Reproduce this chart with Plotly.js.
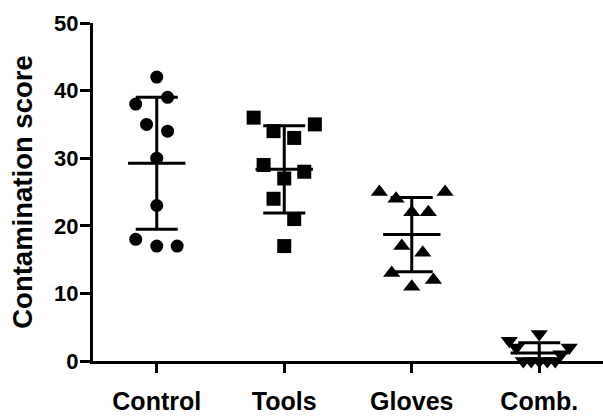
<!DOCTYPE html>
<html>
<head>
<meta charset="utf-8">
<script src="https://cdn.plot.ly/plotly-3.0.1.min.js"></script>
<style>html,body{margin:0;padding:0;background:#fff;}#chart{width:603px;height:418px;}</style>
</head>
<body>
<div id="chart"></div>
<script>
// ---- data ----
const categories = ["Control", "Tools", "Gloves", "Comb."];
const controlValues = [42, 38, 39, 35, 34, 30, 23, 18, 17, 17];
const toolsValues   = [36, 35, 34, 33, 29, 28, 27, 24, 21, 17];
const glovesValues  = [25, 25, 24, 22, 22, 17, 16, 13, 12, 11];
const combValues    = [4, 3, 2, 2, 1, 0, 0, 0, 0, 0];
// horizontal spread of points within each column (category units)
const controlSpread = [0, -0.165, 0.085, -0.08, 0.085, 0, 0, -0.165, 0, 0.16];
const toolsSpread   = [-0.24, 0.24, -0.084, 0.078, -0.162, 0.157, 0, -0.084, 0.078, 0];
const glovesSpread  = [-0.254, 0.261, -0.123, 0, 0.13, -0.078, 0.086, -0.157, 0.17, 0];
const combSpread    = [0, -0.235, -0.18, 0.235, 0.17, -0.125, -0.063, 0, 0.063, 0.125];
const groupMeans = [29.25, 28.35, 18.7, 1.2];
const groupSD    = [9.75, 6.45, 5.5, 1.5];
const yTicks = [0, 10, 20, 30, 40, 50];

const values = [controlValues, toolsValues, glovesValues, combValues];
const spreads = [controlSpread, toolsSpread, glovesSpread, combSpread];
const symbols = ["circle", "square", "triangle-up", "triangle-down"];
const sizes = [13, 14, 15, 15];

const FONT = "Liberation Sans, Arial, Helvetica, sans-serif";
const bold = s => "<b>" + s + "</b>";

const traces = [];
traces.push({
  type: "scatter", mode: "markers",
  x: categories.map((c, i) => i), y: groupMeans,
  marker: {symbol: "line-ew", size: 41, color: "#000", line: {width: 3, color: "#000"}},
  error_y: {type: "data", array: groupSD, visible: true, color: "#000", thickness: 3, width: 21},
  cliponaxis: false, hoverinfo: "skip", showlegend: false
});
values.forEach((vals, i) => {
  traces.push({
    type: "scatter", mode: "markers",
    x: vals.map((v, j) => i + spreads[i][j]), y: vals,
    marker: {symbol: symbols[i], size: sizes[i], color: "#000", line: {width: 0}},
    cliponaxis: false, showlegend: false
  });
});

const layout = {
  width: 603, height: 418,
  margin: {l: 93, r: 0, t: 23, b: 57, pad: 0},
  paper_bgcolor: "#fff", plot_bgcolor: "#fff",
  showlegend: false,
  font: {family: FONT, color: "#000"},
  xaxis: {
    range: [-0.5, 3.5], tickmode: "array", tickvals: categories.map((c, i) => i), ticktext: categories.map(bold),
    showgrid: false, zeroline: false, showline: true, linewidth: 3, linecolor: "#000",
    ticks: "outside", ticklen: 9, tickwidth: 3, tickcolor: "#000",
    tickfont: {family: FONT, size: 25, weight: 700, color: "#000"},
    ticklabelstandoff: 7, fixedrange: true
  },
  yaxis: {
    range: [0, 50], tickmode: "array", tickvals: yTicks, ticktext: yTicks.map(v => bold(String(v))),
    showgrid: false, zeroline: false, showline: true, linewidth: 3, linecolor: "#000",
    ticks: "outside", ticklen: 10, tickwidth: 3, tickcolor: "#000",
    tickfont: {family: FONT, size: 22, weight: 700, color: "#000"},
    ticklabelstandoff: -3,
    title: {text: bold("Contamination score"), font: {family: FONT, size: 27.5, weight: 700, color: "#000"}, standoff: 14},
    fixedrange: true
  }
};

Plotly.newPlot("chart", traces, layout, {staticPlot: true, displayModeBar: false});
</script>
</body>
</html>
